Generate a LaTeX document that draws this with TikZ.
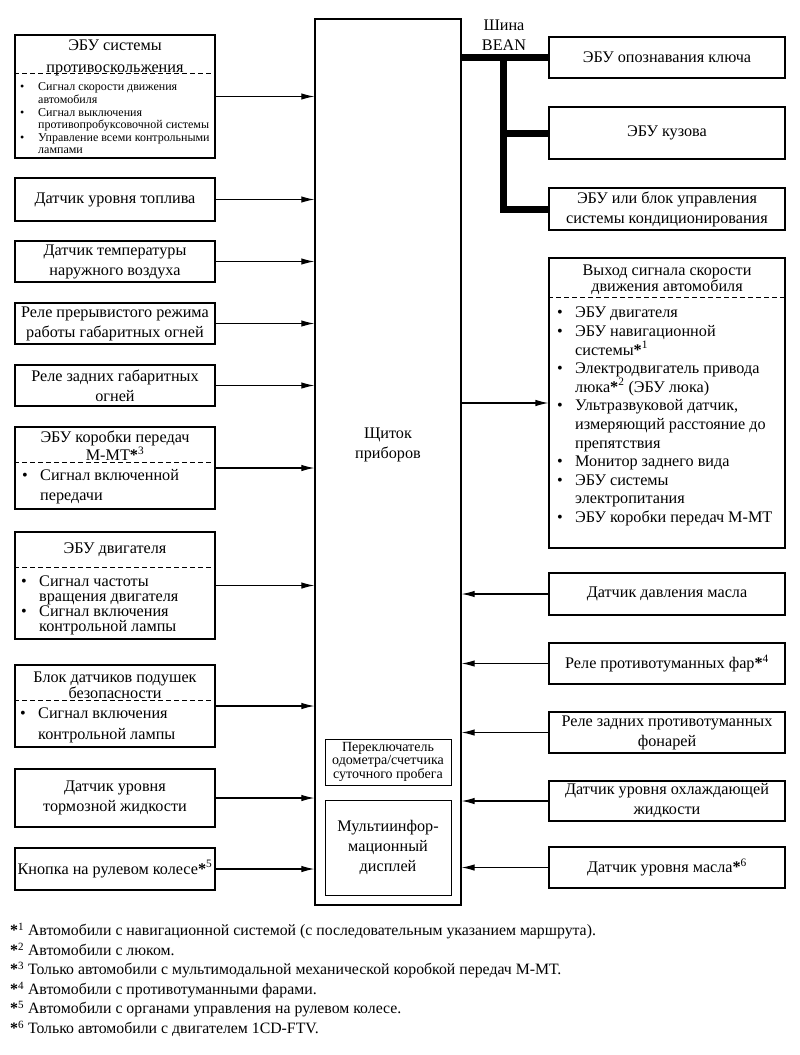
\documentclass[tikz,border=0pt]{standalone}
\usepackage{fontspec}
\setmainfont{Liberation Serif}
\usetikzlibrary{arrows.meta}
\newcommand{\zv}[1]{\textbf{*}\textsuperscript{#1}}
\newcommand{\blt}{\makebox[18pt][l]{\textbullet}}
\newcommand{\otst}{\hspace*{18pt}}

\begin{document}
\begin{tikzpicture}[x=1pt, y=-1pt, font=\fontsize{16.2}{20}\selectfont,
    blok/.style={draw, line width=1.1pt, inner sep=0pt, align=center},
    lblok/.style={blok, minimum width=200pt},
    rblok/.style={blok, minimum width=236pt},
    tekst/.style={inner sep=0pt, align=center},
    spisok/.style={inner sep=0pt, align=left, anchor=west},
    razd/.style={dash pattern=on 5pt off 3pt, line width=1pt},
    strel/.style={-{Latex[length=13pt,width=6.5pt]}, line width=1.1pt},
    shina/.style={line width=7pt}]

  \useasboundingbox (0,0) rectangle (800,1055);

  % щиток приборов
  \node[blok, line width=1.3pt, minimum width=146pt, minimum height=886pt] (shitok) at (388,462) {};
  \node[tekst] (shitoklbl) at (388,445) {Щиток\\приборов};
  \node[blok, line width=1pt, minimum width=126pt, minimum height=46pt,
        font=\fontsize{14}{13}\selectfont] (odometr) at (388,762) {Переключатель\\одометра/счетчика\\суточного пробега};
  \node[blok, line width=1pt, minimum width=126pt, minimum height=95pt] (displ) at (388,847.5) {Мультиинфор-\\мационный\\дисплей};

  % левые блоки
  \node[lblok, minimum height=123pt] (abs) at (115,96.5) {};
  \node[tekst, font=\fontsize{16.2}{22}\selectfont] (abshead) at (115,58) {ЭБУ системы\\противоскольжения};
  \draw[razd] (abs.west |- 0,73) -- (abs.east |- 0,73);
  \node[spisok, font=\fontsize{12}{12.6}\selectfont] (abslist) at (20,118.5) {\blt Сигнал скорости движения\\\otst автомобиля\\\blt Сигнал выключения\\\otst противопробуксовочной системы\\\blt Управление всеми контрольными\\\otst лампами};

  \node[lblok, minimum height=43pt] (toplivo) at (115,199.5) {Датчик уровня топлива};
  \node[lblok, minimum height=41pt] (vozduh) at (115,261.5) {Датчик температуры\\наружного воздуха};
  \node[lblok, minimum height=41pt] (gabrele) at (115,323.5) {Реле прерывистого режима\\работы габаритных огней};
  \node[lblok, minimum height=41pt] (zadgab) at (115,385.5) {Реле задних габаритных\\огней};

  \node[lblok, minimum height=82pt] (korobka) at (115,468) {};
  \node[tekst, font=\fontsize{16.2}{13.5}\selectfont] (korobkahead) at (115,445.5) {ЭБУ коробки передач\\М-МТ\zv{3}};
  \draw[razd] (korobka.west |- 0,462) -- (korobka.east |- 0,462);
  \node[spisok] (korobkalist) at (22,487) {\blt Сигнал включенной\\\otst передачи};

  \node[lblok, minimum height=107pt] (dvig) at (115,585.5) {};
  \node[tekst] (dvighead) at (115,550) {ЭБУ двигателя};
  \draw[razd] (dvig.west |- 0,567) -- (dvig.east |- 0,567);
  \node[spisok, font=\fontsize{16.2}{15}\selectfont] (dviglist) at (21,605.5) {\blt Сигнал частоты\\\otst вращения двигателя\\\blt Сигнал включения\\\otst контрольной лампы};

  \node[lblok, minimum height=82pt] (airbag) at (115,706) {};
  \node[tekst, font=\fontsize{16.2}{16}\selectfont] (airbaghead) at (115,685) {Блок датчиков подушек\\безопасности};
  \draw[razd] (airbag.west |- 0,700) -- (airbag.east |- 0,700);
  \node[spisok, font=\fontsize{16.2}{21}\selectfont] (airbaglist) at (20,725.5) {\blt Сигнал включения\\\otst контрольной лампы};

  \node[lblok, minimum height=58pt] (tormoz) at (115,798) {Датчик уровня\\тормозной жидкости};
  \node[lblok, minimum height=42pt] (knopka) at (115,869) {Кнопка на рулевом колесе\zv{5}};

  % правые блоки
  \node[rblok, minimum height=41pt] (kluch) at (667,57.5) {ЭБУ опознавания ключа};
  \node[rblok, minimum height=52pt] (kuzov) at (667,133) {ЭБУ кузова};
  \node[rblok, minimum height=42pt] (kondic) at (667,209) {ЭБУ или блок управления\\системы кондиционирования};

  \node[rblok, minimum height=290pt] (vyhod) at (667,403) {};
  \node[tekst, font=\fontsize{16.2}{16}\selectfont] (vyhodhead) at (667,280) {Выход сигнала скорости\\движения автомобиля};
  \draw[razd] (vyhod.west |- 0,297) -- (vyhod.east |- 0,297);
  \node[spisok, font=\fontsize{16.2}{18.6}\selectfont] (vyhodlist) at (557,416.5) {\blt ЭБУ двигателя\\\blt ЭБУ навигационной\\\otst системы\zv{1}\\\blt Электродвигатель привода\\\otst люка\zv{2} (ЭБУ люка)\\\blt Ультразвуковой датчик,\\\otst измеряющий расстояние до\\\otst препятствия\\\blt Монитор заднего вида\\\blt ЭБУ системы\\\otst электропитания\\\blt ЭБУ коробки передач М-МТ};

  \node[rblok, minimum height=42pt] (davlenie) at (667,594) {Датчик давления масла};
  \node[rblok, minimum height=41pt] (fary) at (667,663.5) {Реле противотуманных фар\zv{4}};
  \node[rblok, minimum height=41pt] (fonari) at (667,732.5) {Реле задних противотуманных\\фонарей};
  \node[rblok, minimum height=40pt] (ohlazhd) at (667,801) {Датчик уровня охлаждающей\\жидкости};
  \node[rblok, minimum height=41pt] (maslo) at (667,867.5) {Датчик уровня масла\zv{6}};

  % шина BEAN
  \node[tekst] (shinalbl) at (504,35) {Шина\\BEAN};
  \coordinate (uzel) at (503,0);
  \draw[shina] (shitok.east |- kluch.west) -- (kluch.west);
  \draw[shina] (uzel |- kluch.west) |- (kondic.west);
  \draw[shina] (uzel |- kuzov.west) -- (kuzov.west);

  % входы
  \foreach \v in {abs,toplivo,vozduh,gabrele,zadgab,korobka,dvig,airbag,tormoz,knopka}
    \draw[strel] (\v.east) -- (\v.east -| shitok.west);
  \foreach \v in {davlenie,fary,fonari,ohlazhd,maslo}
    \draw[strel] (\v.west) -- (\v.west -| shitok.east);
  \draw[strel] (shitok.east |- vyhod.west) -- (vyhod.west);

  % примечания
  \node[spisok, font=\fontsize{15.8}{19.5}\selectfont] (primech) at (10,980) {\zv{1} Автомобили с навигационной системой (с последовательным указанием маршрута).\\\zv{2} Автомобили с люком.\\\zv{3} Только автомобили с мультимодальной механической коробкой передач М-МТ.\\\zv{4} Автомобили с противотуманными фарами.\\\zv{5} Автомобили с органами управления на рулевом колесе.\\\zv{6} Только автомобили с двигателем 1CD-FTV.};
\end{tikzpicture}
\end{document}
